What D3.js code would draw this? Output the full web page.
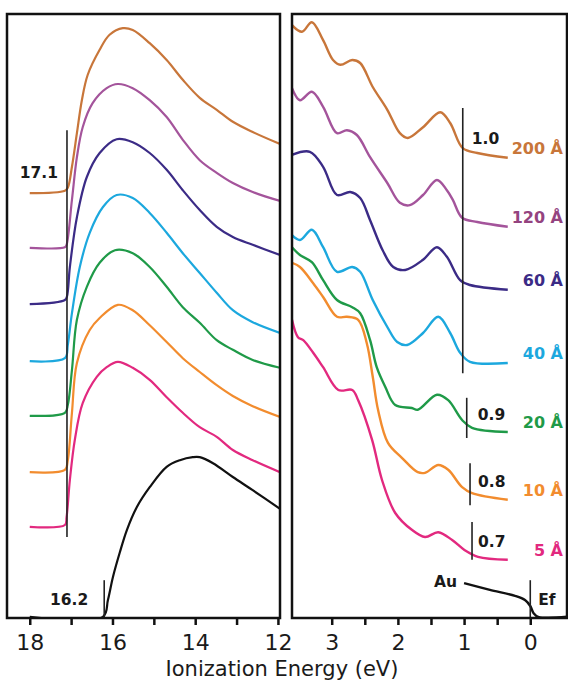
<!DOCTYPE html>
<html>
<head>
<meta charset="utf-8">
<script src="https://cdn.jsdelivr.net/npm/d3@7"></script>
<style>
  body { margin: 0; background: #fff; }
  text { font-family: "DejaVu Sans", sans-serif; }
</style>
</head>
<body>
<script>

// thickness labels (top to bottom)
var seriesNames = ["200 Å", "120 Å", "60 Å", "40 Å", "20 Å", "10 Å", "5 Å"];

// secondary electron cutoff region, [ionization energy eV, intensity a.u.]
var cut200 = [[18.0,7.08],[17.15,7.12],[17.08,7.17],[16.98,7.52],[16.86,8.08],[16.74,8.63],[16.60,9.05],[16.31,9.47],[16.07,9.72],[15.75,9.83],[15.51,9.80],[15.10,9.58],[14.69,9.30],[14.30,8.97],[13.89,8.67],[13.48,8.47],[13.09,8.27],[12.61,8.10],[11.95,7.90]];
var cut120 = [[18.0,6.17],[17.15,6.18],[17.11,6.22],[16.98,6.97],[16.86,7.68],[16.72,8.18],[16.48,8.58],[16.14,8.83],[15.87,8.90],[15.51,8.83],[15.10,8.63],[14.69,8.35],[14.30,7.97],[13.89,7.63],[13.48,7.42],[13.09,7.25],[12.61,7.10],[11.95,6.95]];
var cut60 = [[18.0,5.23],[17.15,5.30],[17.10,5.36],[17.03,5.85],[16.86,6.68],[16.62,7.35],[16.31,7.75],[15.90,7.98],[15.51,7.93],[15.10,7.75],[14.69,7.47],[14.30,7.13],[13.89,6.80],[13.48,6.52],[13.09,6.35],[12.61,6.22],[11.95,6.05]];
var cut40 = [[18.0,4.28],[17.15,4.33],[17.08,4.55],[16.98,5.08],[16.79,5.85],[16.55,6.42],[16.23,6.85],[15.90,7.05],[15.51,7.00],[15.10,6.75],[14.69,6.42],[14.30,6.08],[13.89,5.75],[13.48,5.42],[13.09,5.13],[12.61,4.93],[11.95,4.75]];
var cut20 = [[18.0,3.37],[17.15,3.42],[17.08,3.55],[16.98,4.13],[16.86,4.97],[16.62,5.52],[16.31,5.92],[15.94,6.13],[15.51,6.08],[15.10,5.85],[14.69,5.52],[14.30,5.18],[13.89,4.92],[13.48,4.63],[13.09,4.47],[12.61,4.30],[11.95,4.17]];
var cut10 = [[18.0,2.43],[17.15,2.47],[17.08,2.63],[16.98,3.42],[16.86,4.25],[16.55,4.80],[16.31,5.00],[15.87,5.22],[15.51,5.13],[15.10,4.88],[14.69,4.60],[14.30,4.33],[13.89,4.10],[13.48,3.88],[13.09,3.70],[12.61,3.53],[11.95,3.35]];
var cut5 = [[18.0,1.52],[17.15,1.55],[17.11,1.68],[17.03,2.30],[16.91,2.97],[16.72,3.58],[16.38,4.02],[16.14,4.18],[15.87,4.27],[15.51,4.17],[15.10,3.97],[14.69,3.68],[14.30,3.42],[13.89,3.18],[13.48,3.02],[13.09,2.80],[12.61,2.63],[11.95,2.43]];
var cutAu = [[18.0,0.02],[16.23,0.02],[16.11,0.30],[15.99,0.68],[15.82,1.10],[15.65,1.47],[15.41,1.85],[15.10,2.18],[14.69,2.52],[14.37,2.63],[14.06,2.68],[13.89,2.68],[13.57,2.58],[13.09,2.35],[12.61,2.13],[11.95,1.82]];

// valence region near the Fermi level
var val200 = [[3.60,9.88],[3.45,9.77],[3.30,9.93],[3.13,9.63],[2.98,9.30],[2.87,9.22],[2.69,9.30],[2.57,9.25],[2.38,8.85],[2.16,8.47],[1.97,8.08],[1.85,8.00],[1.62,8.18],[1.36,8.43],[1.21,8.25],[1.02,7.83],[0.80,7.75],[0.34,7.67]];
var val120 = [[3.60,8.83],[3.48,8.63],[3.30,8.77],[3.13,8.52],[2.92,8.08],[2.77,8.13],[2.62,8.05],[2.42,7.68],[2.16,7.25],[1.97,6.92],[1.82,6.88],[1.62,7.05],[1.41,7.30],[1.26,7.13],[1.17,6.97],[1.03,6.67],[0.80,6.60],[0.34,6.52]];
var val60 = [[3.60,7.72],[3.33,7.77],[3.13,7.52],[2.92,7.05],[2.72,7.10],[2.57,7.00],[2.42,6.63],[2.23,6.13],[2.07,5.85],[1.89,5.80],[1.62,5.97],[1.41,6.18],[1.26,6.02],[1.06,5.63],[0.91,5.55],[0.34,5.47]];
var val40 = [[3.60,6.38],[3.48,6.30],[3.30,6.47],[3.13,6.18],[2.92,5.77],[2.69,5.85],[2.57,5.77],[2.38,5.30],[2.16,4.85],[2.01,4.60],[1.86,4.55],[1.62,4.75],[1.39,5.02],[1.21,4.75],[1.06,4.42],[0.91,4.27],[0.34,4.25]];
var val20 = [[3.60,6.18],[3.48,6.05],[3.30,5.93],[3.13,5.63],[2.92,5.30],[2.69,5.18],[2.57,5.08],[2.42,4.63],[2.32,4.18],[2.19,3.85],[2.04,3.55],[1.79,3.50],[1.70,3.47],[1.41,3.72],[1.24,3.63],[1.03,3.30],[0.88,3.17],[0.34,3.10]];
var val10 = [[3.60,5.92],[3.48,5.85],[3.28,5.58],[3.13,5.35],[2.92,5.02],[2.77,5.02],[2.60,4.97],[2.47,4.58],[2.38,4.02],[2.30,3.47],[2.15,2.92],[1.94,2.67],[1.70,2.43],[1.59,2.42],[1.39,2.55],[1.24,2.47],[1.03,2.18],[0.88,2.08],[0.34,1.97]];
var val5 = [[3.60,4.97],[3.51,4.68],[3.43,4.63],[3.28,4.42],[3.13,4.18],[2.90,3.80],[2.69,3.80],[2.60,3.63],[2.39,2.97],[2.24,2.30],[2.04,1.75],[1.79,1.47],[1.59,1.35],[1.39,1.43],[1.18,1.30],[0.99,1.13],[0.79,1.02],[0.34,0.97]];
var valAu = [[1.00,0.58],[0.61,0.47],[0.23,0.37],[0.08,0.30],[0.00,0.20],[-0.05,0.08],[-0.12,0.02],[-0.56,0.02]];

// onset markers: energy, bar from/to (a.u.), label
var cutMarks = [{e: 17.1, lo: 1.35, hi: 8.13, label: "17.1"}, {e: 16.2, lo: 0, hi: 0.63, label: "16.2"}];
var valMarks = [{e: 1.02, lo: 4.08, hi: 8.5, label: "1.0"}, {e: 0.96, lo: 3.0, hi: 3.67, label: "0.9"},
                {e: 0.91, lo: 1.88, hi: 2.58, label: "0.8"}, {e: 0.88, lo: 0.97, hi: 1.6, label: "0.7"},
                {e: 0.0, lo: 0, hi: 0.63, label: "Ef"}];

var leftTicks = [18, 17, 16, 15, 14, 13, 12];
var rightTicks = [3, 2.5, 2, 1.5, 1, 0.5, 0];

var colors = ["#c8763a", "#a4549b", "#3b2b86", "#1ca8de", "#1f9a48", "#f28c2e", "#e2297f"];
var labelColors = ["#c8763a", "#94437f", "#3b2b86", "#1ca8de", "#1f9a48", "#f28c2e", "#e2297f"];

var cutSeries = [cut200, cut120, cut60, cut40, cut20, cut10, cut5];
var valSeries = [val200, val120, val60, val40, val20, val10, val5];

var svg = d3.select("body").append("svg")
            .attr("width", 568)
            .attr("height", 681);

var frameTop = 14, frameBottom = 618;
var xL = d3.scaleLinear().domain([18.55, 11.95]).range([7, 280]);
var xR = d3.scaleLinear().domain([3.6, -0.555]).range([292, 567]);
var y = d3.scaleLinear().domain([0, 10]).range([618, 18]);

// clip paths for the two frames
var defs = svg.append("defs");
defs.append("clipPath").attr("id", "clipL").append("rect")
    .attr("x", 7).attr("y", frameTop).attr("width", 273).attr("height", frameBottom - frameTop);
defs.append("clipPath").attr("id", "clipR").append("rect")
    .attr("x", 292).attr("y", frameTop).attr("width", 275).attr("height", frameBottom - frameTop);

function lineFor(x) {
  return d3.line()
           .x(function (d) { return x(d[0]); })
           .y(function (d) { return y(d[1]); })
           .curve(d3.curveCatmullRom.alpha(0.5));
}

var gL = svg.append("g").attr("clip-path", "url(#clipL)");
var gR = svg.append("g").attr("clip-path", "url(#clipR)");

gL.selectAll("path.trace")
  .data(cutSeries.concat([cutAu]))
  .enter().append("path")
  .attr("class", "trace")
  .attr("d", lineFor(xL))
  .attr("fill", "none")
  .attr("stroke", function (d, i) { return i < 7 ? colors[i] : "#111"; })
  .attr("stroke-width", 2.2)
  .attr("stroke-linejoin", "round");

gR.selectAll("path.trace")
  .data(valSeries.concat([valAu]))
  .enter().append("path")
  .attr("class", "trace")
  .attr("d", lineFor(xR))
  .attr("fill", "none")
  .attr("stroke", function (d, i) { return i < 7 ? colors[i] : "#111"; })
  .attr("stroke-width", 2.4)
  .attr("stroke-linejoin", "round");

// onset bars
svg.selectAll("line.markL")
   .data(cutMarks).enter().append("line")
   .attr("x1", function (d) { return xL(d.e); })
   .attr("x2", function (d) { return xL(d.e); })
   .attr("y1", function (d) { return y(d.lo); })
   .attr("y2", function (d) { return y(d.hi); })
   .attr("stroke", "#222").attr("stroke-width", 1.6);

svg.selectAll("line.markR")
   .data(valMarks).enter().append("line")
   .attr("x1", function (d) { return xR(d.e); })
   .attr("x2", function (d) { return xR(d.e); })
   .attr("y1", function (d) { return y(d.lo); })
   .attr("y2", function (d) { return y(d.hi); })
   .attr("stroke", "#222").attr("stroke-width", 1.6);

// marker labels
var markText = [
  {x: xL(17.1) - 9, v: 7.33, t: "17.1", anchor: "end"},
  {x: xL(16.2) - 16, v: 0.22, t: "16.2", anchor: "end"},
  {x: xR(1.02) + 9, v: 7.9, t: "1.0", anchor: "start"},
  {x: xR(0.96) + 11, v: 3.3, t: "0.9", anchor: "start"},
  {x: xR(0.91) + 8, v: 2.18, t: "0.8", anchor: "start"},
  {x: xR(0.88) + 6, v: 1.18, t: "0.7", anchor: "start"},
  {x: xR(0) + 8, v: 0.22, t: "Ef", anchor: "start"},
  {x: xR(1.0) - 7, v: 0.52, t: "Au", anchor: "end"}
];
svg.selectAll("text.mark")
   .data(markText).enter().append("text")
   .attr("x", function (d) { return d.x; })
   .attr("y", function (d) { return y(d.v); })
   .attr("text-anchor", function (d) { return d.anchor; })
   .attr("font-size", "15.5px")
   .attr("font-weight", "bold")
   .attr("fill", "#1a1a1a")
   .text(function (d) { return d.t; });

// thickness labels at the right end of each valence trace
svg.selectAll("text.series")
   .data(valSeries).enter().append("text")
   .attr("x", 563)
   .attr("y", function (d) { return y(d[d.length - 1][1]) - 4; })
   .attr("text-anchor", "end")
   .attr("font-size", "16px")
   .attr("font-weight", "bold")
   .attr("fill", function (d, i) { return labelColors[i]; })
   .text(function (d, i) { return seriesNames[i]; });

// frames
svg.append("rect").attr("x", 7).attr("y", frameTop).attr("width", 273).attr("height", frameBottom - frameTop)
   .attr("fill", "none").attr("stroke", "#111").attr("stroke-width", 2.5);
svg.append("rect").attr("x", 292).attr("y", frameTop).attr("width", 275).attr("height", frameBottom - frameTop)
   .attr("fill", "none").attr("stroke", "#111").attr("stroke-width", 2.5);

// axes
var axL = d3.axisBottom(xL).tickValues(leftTicks).tickSize(7).tickSizeOuter(0)
            .tickFormat(function (d) { return d % 2 === 0 ? d : ""; });
var axR = d3.axisBottom(xR).tickValues(rightTicks).tickSize(7).tickSizeOuter(0)
            .tickFormat(function (d) { return Number.isInteger(d) ? d : ""; });

[axL, axR].forEach(function (ax) {
  var g = svg.append("g").attr("transform", "translate(0," + frameBottom + ")").call(ax);
  g.select(".domain").remove();
  g.selectAll(".tick line").attr("stroke", "#111").attr("stroke-width", 2.5);
  g.selectAll(".tick text")
   .attr("font-family", "DejaVu Sans, sans-serif")
   .attr("font-size", "22px")
   .attr("fill", "#1a1a1a")
   .attr("dy", null)
   .attr("y", 32);
});

svg.append("text")
   .attr("x", 282)
   .attr("y", 676)
   .attr("text-anchor", "middle")
   .attr("font-size", "21px")
   .attr("fill", "#1a1a1a")
   .text("Ionization Energy (eV)");

</script>
</body>
</html>
